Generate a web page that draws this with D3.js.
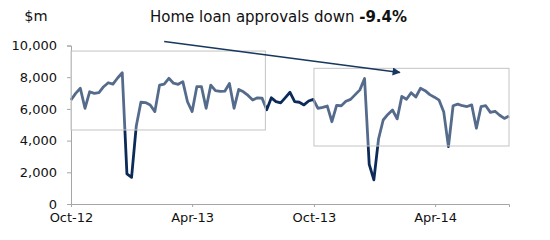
<!DOCTYPE html>
<html>
<head>
<meta charset="utf-8">
<script src="https://cdn.jsdelivr.net/npm/d3@7"></script>
<style>
  body { margin: 0; background: #fff; }
  svg text { font-family: "DejaVu Sans", Verdana, sans-serif; fill: #111; }
</style>
</head>
<body>
<div id="chart"></div>
<script>
// weekly home loan approvals, $m (week starting Monday)
var weeks = d3.timeMonday.range(new Date(2012, 9, 1), new Date(2014, 6, 22));
var approvals = [
  6560, 6980, 7300, 6040, 7080, 6980, 7030, 7400, 7650, 7560,
  7950, 8280, 1900, 1680, 4900, 6420, 6400, 6250, 5830, 7500,
  7570, 7930, 7620, 7550, 7720, 6450, 5830, 7400, 7400, 6040,
  7500, 7150, 7100, 7120, 7600, 6040, 7230, 7080, 6850, 6560,
  6700, 6680, 5950, 6700, 6460, 6380, 6710, 7050, 6460, 6420,
  6250, 6500, 6600, 6030, 6100, 6180, 5190, 6220, 6200, 6480,
  6600, 6900, 7200, 7920, 2500, 1520, 4100, 5300, 5650, 5930,
  5370, 6790, 6610, 7020, 6750, 7300, 7150, 6900, 6740, 6550,
  5800, 3620, 6200, 6300, 6200, 6150, 6250, 4780, 6140, 6200,
  5780, 5850, 5600, 5400, 5550
];
var yTicks = [0, 2000, 4000, 6000, 8000, 10000];
var xTicks = [new Date(2012, 9, 1), new Date(2013, 3, 1), new Date(2013, 9, 1), new Date(2014, 3, 1)];

// highlighted periods [from, to, low, high]
var boxes = [
  [new Date(2012, 9, 1), new Date(2013, 6, 20), 4670, 9650],
  [new Date(2013, 9, 1), new Date(2014, 6, 21), 3660, 8560]
];
// trend arrow [date, value] -> [date, value]
var arrowFrom = [new Date(2013, 1, 18), 10250];
var arrowTo = [new Date(2014, 1, 7), 8300];

var margin = {left: 71, right: 41, top: 45.5, bottom: 36};
var width = 550 - margin.left - margin.right;
var height = 240 - margin.top - margin.bottom;

var svg = d3.select("#chart").append("svg")
  .attr("width", 550)
  .attr("height", 240);

var g = svg.append("g")
  .attr("transform", "translate(" + margin.left + "," + margin.top + ")");

var x = d3.scaleTime()
  .domain([weeks[0], weeks[weeks.length - 1]])
  .range([0, width]);

var y = d3.scaleLinear()
  .domain([0, 10000])
  .range([height, 0]);

// axes
var yAxis = g.append("g")
  .attr("class", "y-axis")
  .call(d3.axisLeft(y).tickValues(yTicks).tickFormat(d3.format(",")).tickSize(4).tickPadding(10));

var xAxis = g.append("g")
  .attr("class", "x-axis")
  .attr("transform", "translate(0," + height + ")")
  .call(d3.axisBottom(x).tickValues(xTicks).tickFormat(d3.timeFormat("%b-%y")).tickSize(3).tickPadding(6));

g.selectAll(".domain, .tick line").attr("stroke", "#a6a6a6");
g.selectAll(".tick text").attr("font-size", "13px").attr("fill", "#111");

// series
var line = d3.line()
  .x(function(d, i) { return x(weeks[i]); })
  .y(function(d) { return y(d); });

g.append("path")
  .datum(approvals)
  .attr("d", line)
  .attr("fill", "none")
  .attr("stroke", "#0c2b59")
  .attr("stroke-width", 2.8)
  .attr("stroke-linejoin", "round");

// translucent boxes over the line
g.selectAll("rect.box")
  .data(boxes)
  .enter().append("rect")
  .attr("class", "box")
  .attr("x", function(d) { return x(d[0]); })
  .attr("y", function(d) { return y(d[3]); })
  .attr("width", function(d) { return x(d[1]) - x(d[0]); })
  .attr("height", function(d) { return y(d[2]) - y(d[3]); })
  .attr("fill", "#fff")
  .attr("fill-opacity", 0.3)
  .attr("stroke", "#c4c4c4")
  .attr("stroke-width", 1);

// arrow
svg.append("defs").append("marker")
  .attr("id", "head")
  .attr("viewBox", "0 0 10 10")
  .attr("refX", 9)
  .attr("refY", 5)
  .attr("markerWidth", 6)
  .attr("markerHeight", 5)
  .attr("orient", "auto")
  .attr("markerUnits", "strokeWidth")
  .append("path")
  .attr("d", "M0,0L10,5L0,10z")
  .attr("fill", "#17375e");

g.append("line")
  .attr("x1", x(arrowFrom[0]))
  .attr("y1", y(arrowFrom[1]))
  .attr("x2", x(arrowTo[0]))
  .attr("y2", y(arrowTo[1]))
  .attr("stroke", "#17375e")
  .attr("stroke-width", 1.6)
  .attr("marker-end", "url(#head)");

// labels
svg.append("text")
  .attr("x", 36)
  .attr("y", 21)
  .attr("text-anchor", "middle")
  .attr("font-size", "14.5px")
  .text("$m");

var title = svg.append("text")
  .attr("x", 150)
  .attr("y", 22)
  .attr("font-size", "15px");
title.append("tspan").text("Home loan approvals down ");
title.append("tspan").attr("font-weight", "bold").text("-9.4%");
</script>
</body>
</html>
